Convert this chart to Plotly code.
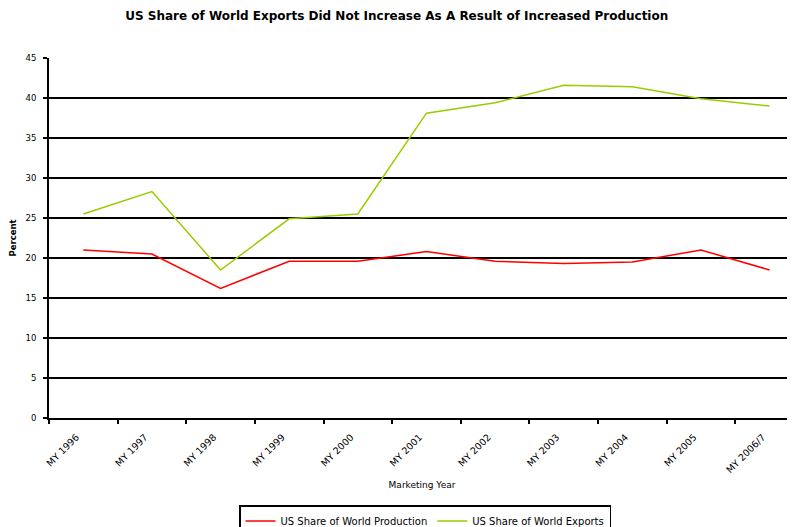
import plotly.graph_objects as go

years = ["MY 1996", "MY 1997", "MY 1998", "MY 1999", "MY 2000", "MY 2001",
         "MY 2002", "MY 2003", "MY 2004", "MY 2005", "MY 2006/7"]
production = [21.0, 20.5, 16.2, 19.6, 19.6, 20.8, 19.6, 19.3, 19.5, 21.0, 18.5]
exports = [25.5, 28.3, 18.5, 24.9, 25.5, 38.1, 39.4, 41.6, 41.4, 39.9, 39.0]
y_ticks = [0, 5, 10, 15, 20, 25, 30, 35, 40, 45]

FONT = "DejaVu Sans, Liberation Sans, Arial, sans-serif"

fig = go.Figure()
fig.add_trace(go.Scatter(x=years, y=production, mode="lines",
                         name="US Share of World Production",
                         line=dict(color="#ff0000", width=1.5)))
fig.add_trace(go.Scatter(x=years, y=exports, mode="lines",
                         name="US Share of World Exports",
                         line=dict(color="#99cc00", width=1.5)))

fig.update_layout(
    width=795, height=527,
    margin=dict(l=41, r=8, t=50, b=117, autoexpand=False),
    paper_bgcolor="white", plot_bgcolor="white",
    font=dict(family=FONT, size=8, color="black"),
    title=dict(text="<b>US Share of World Exports Did Not Increase As A Result of Increased Production</b>",
               xref="container", x=0.489, xanchor="center",
               yref="container", y=0.985, yanchor="middle",
               font=dict(size=12, family=FONT, color="black")),
    showlegend=True,
    legend=dict(orientation="h", x=0.2547, xanchor="left", y=-0.2417, yanchor="top",
                bordercolor="black", borderwidth=1.5, bgcolor="white",
                font=dict(size=10, family=FONT), itemwidth=30,
                tracegroupgap=0),
    xaxis=dict(type="category", categoryorder="array", categoryarray=years,
               range=[-0.5, 10.37], tickson="boundaries",
               ticks="outside", ticklen=4, tickcolor="black", tickwidth=1.5,
               tickangle=-45, tickfont=dict(size=9.5, family=FONT),
               ticklabelstandoff=8, ticklabelshift=-7,
               showline=True, linecolor="black", linewidth=2,
               showgrid=False, zeroline=False,
               title=dict(text="Marketing Year", font=dict(size=9, family=FONT), standoff=8)),
    yaxis=dict(range=[0, 45], tickvals=y_ticks, ticktext=[str(v) for v in y_ticks],
               ticks="outside", ticklen=4, tickcolor="black", tickwidth=1.5,
               tickfont=dict(size=8.5, family=FONT), ticklabelstandoff=5,
               showline=True, linecolor="black", linewidth=2,
               showgrid=True, gridcolor="black", gridwidth=1.5, zeroline=False,
               title=dict(text="<b>Percent</b>", font=dict(size=8.5, family=FONT), standoff=7)),
)

fig.write_html("out.html")
